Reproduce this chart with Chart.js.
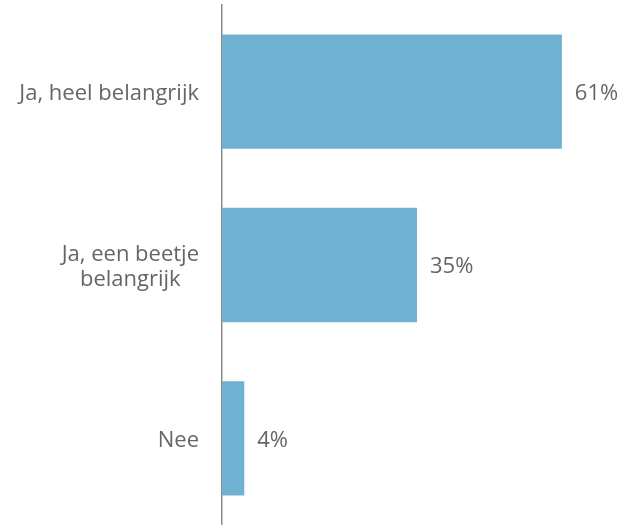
<!DOCTYPE html>
<html lang="nl">
<head>
    <meta charset="UTF-8">
    <title>Belangrijk</title>
    <script src="https://cdn.jsdelivr.net/npm/chart.js"></script>
    <style>
        html, body { margin: 0; padding: 0; background: #fff; }
        #wrap { width: 621px; height: 525px; position: relative; }
    </style>
</head>
<body>
    <div id="wrap"><canvas id="chart"></canvas></div>

    <script>
        // --- data ---
        const categories = [['Ja, heel belangrijk'], ['Ja, een beetje', 'belangrijk'], ['Nee']];
        const values = [61, 35, 4];
        const valueLabels = ['61%', '35%', '4%'];

        const FONT = "'Open Sans', sans-serif";
        const TEXT = '#666666';

        // categorie-labels links van de as (blok rechts uitgelijnd, regels gecentreerd)
        const categoryLabels = {
            id: 'categoryLabels',
            afterDraw(chart) {
                const ctx = chart.ctx;
                const y = chart.scales.y;
                ctx.save();
                ctx.font = '22px ' + FONT;
                ctx.fillStyle = TEXT;
                ctx.textAlign = 'center';
                ctx.textBaseline = 'middle';
                const lh = 25;
                categories.forEach((lines, i) => {
                    const cy = y.getPixelForTick(i) + 2;
                    const w = Math.max(...lines.map(l => ctx.measureText(l).width));
                    const cx = 199 - w / 2;
                    const top = cy - (lines.length - 1) * lh / 2;
                    lines.forEach((l, j) => ctx.fillText(l, cx, top + j * lh));
                });
                ctx.restore();
            }
        };

        // percentages achter de balken
        const valueLabelPlugin = {
            id: 'valueLabels',
            afterDatasetsDraw(chart) {
                const ctx = chart.ctx;
                const meta = chart.getDatasetMeta(0);
                ctx.save();
                ctx.font = '22px ' + FONT;
                ctx.fillStyle = TEXT;
                ctx.textAlign = 'left';
                ctx.textBaseline = 'middle';
                meta.data.forEach((bar, i) => {
                    ctx.fillText(valueLabels[i], bar.x + 13, bar.y + 2);
                });
                ctx.restore();
            }
        };

        new Chart(document.getElementById('chart'), {
            type: 'bar',
            data: {
                labels: categories,
                datasets: [{
                    data: values,
                    backgroundColor: '#6fb1d0',
                    borderWidth: 0,
                    categoryPercentage: 1,
                    barPercentage: 0.66
                }]
            },
            options: {
                indexAxis: 'y',
                responsive: true,
                maintainAspectRatio: false,
                animation: false,
                layout: { padding: { top: 5, bottom: 0, right: 9, left: 0 } },
                plugins: { legend: { display: false }, tooltip: { enabled: false } },
                scales: {
                    x: { display: false, min: 0, max: 70 },
                    y: {
                        afterFit(scale) { scale.width = 222; },
                        grid: { display: true, drawOnChartArea: false, drawTicks: false },
                        border: { display: true, color: '#8c8c8c', width: 1.5 },
                        ticks: { display: false }
                    }
                }
            },
            plugins: [categoryLabels, valueLabelPlugin]
        });
    </script>
</body>
</html>
